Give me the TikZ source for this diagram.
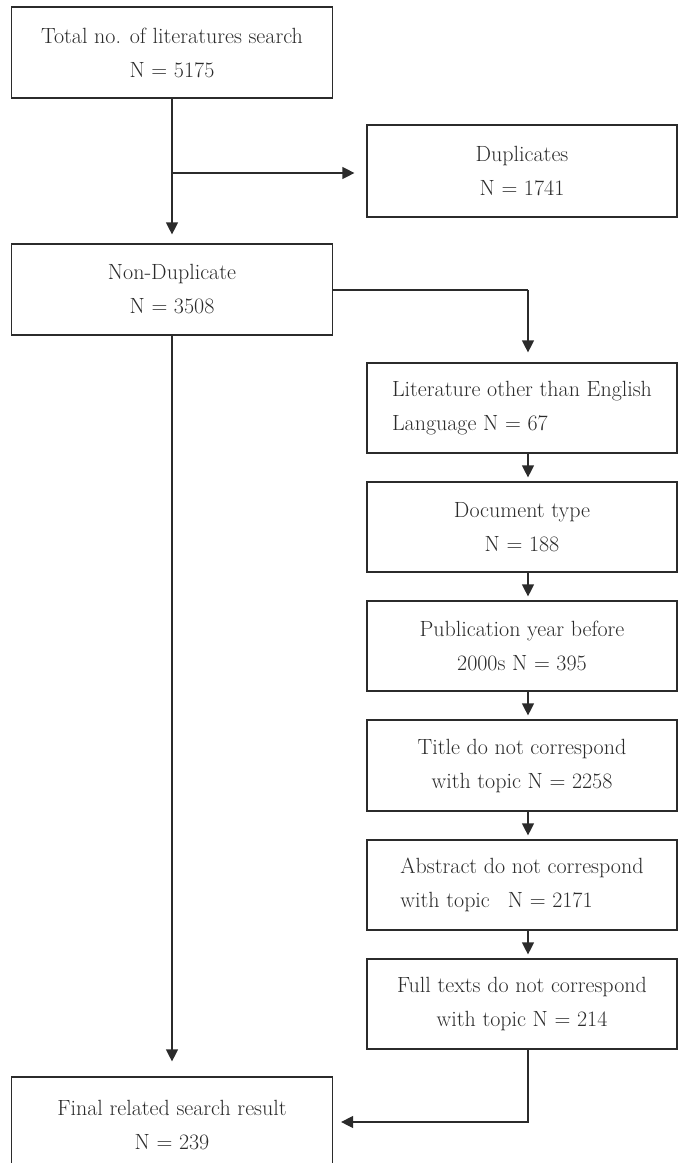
\documentclass[tikz,border=0pt]{standalone}
\usetikzlibrary{arrows.meta,calc}
\definecolor{ink}{HTML}{2B2B2B}
\begin{document}
\begin{tikzpicture}[x=1pt,y=-1pt,
  box/.style={draw=ink,line width=1.2pt,rectangle,inner sep=0pt,
    minimum width=#1,text=ink,align=center,
    font=\fontsize{22}{34}\selectfont},
  box/.default=321pt,
  arr/.style={draw=ink,line width=1.2pt,-{Triangle[length=12pt,width=12pt]}},
  ln/.style={draw=ink,line width=1.2pt}]
\useasboundingbox (0,0) rectangle (678,1163);
\node[box, minimum height=91pt] (tot) at (172,52.5) {Total no. of literatures search\\N = 5175};
\node[box=310pt, minimum height=92pt] (dup) at (522,171) {Duplicates\\N = 1741};
\node[box, minimum height=91pt] (nd) at (172,289.5) {Non-Duplicate\\N = 3508};
\node[box=310pt, minimum height=90pt, align=left] (lit) at (522,408) {Literature other than English\\Language N = 67};
\node[box=310pt, minimum height=90pt] (doc) at (522,527) {Document type\\N = 188};
\node[box=310pt, minimum height=90pt] (pub) at (522,646) {Publication year before\\2000s N = 395};
\node[box=310pt, minimum height=91pt] (tit) at (522,765.5) {Title do not correspond\\with topic N = 2258};
\node[box=310pt, minimum height=90pt, align=left] (abs) at (522,885) {Abstract do not correspond\\with topic\hspace{18pt}N = 2171};
\node[box=310pt, minimum height=90pt] (ful) at (522,1004) {Full texts do not correspond\\with topic N = 214};
\node[box, minimum height=96pt] (fin) at (172,1125) {Final related search result\\N = 239};
\coordinate (colx) at (528,0);
\coordinate (b1) at (172,173);
\coordinate (b2) at (528,290);
\coordinate (b3) at (528,1122);
% connectors
\draw[arr, shorten >=9pt] (tot.south) -- (nd.north);
\draw[arr, shorten >=12pt] (b1) -- (b1 -| dup.west);
\draw[ln] (nd.east |- b2) -- (b2);
\draw[arr, shorten >=10pt] (b2) -- (lit.north -| colx);
\draw[arr, shorten >=4pt] (lit.south -| colx) -- (doc.north -| colx);
\draw[arr, shorten >=4pt] (doc.south -| colx) -- (pub.north -| colx);
\draw[arr, shorten >=4pt] (pub.south -| colx) -- (tit.north -| colx);
\draw[arr, shorten >=4pt] (tit.south -| colx) -- (abs.north -| colx);
\draw[arr, shorten >=4pt] (abs.south -| colx) -- (ful.north -| colx);
\draw[arr, shorten >=15pt] (nd.south) -- (fin.north);
\draw[arr, shorten >=8pt] (ful.south -| colx) -- (b3) -- (b3 -| fin.east);
\end{tikzpicture}
\end{document}
